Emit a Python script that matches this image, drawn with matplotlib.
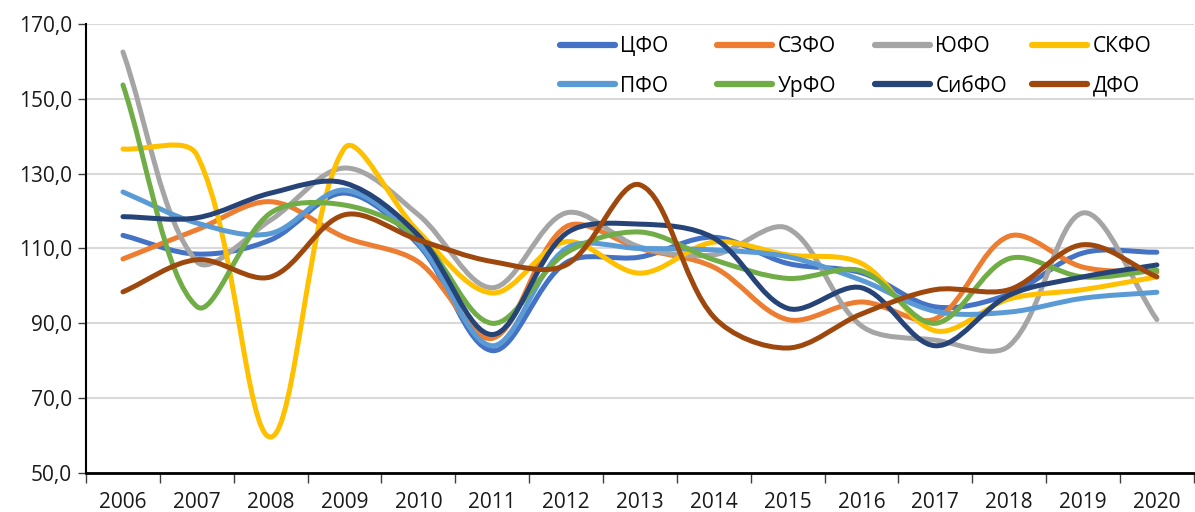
import numpy as np
import matplotlib.pyplot as plt
from matplotlib.path import Path
from matplotlib.patches import PathPatch
from matplotlib.lines import Line2D

plt.rcParams['font.family'] = ['Open Sans', 'DejaVu Sans']

years = ['2006', '2007', '2008', '2009', '2010', '2011', '2012', '2013',
         '2014', '2015', '2016', '2017', '2018', '2019', '2020']

cfo   = [113.5, 108.5, 112.3, 124.8, 111.0, 82.7, 106.2, 107.7, 113.0, 106.0, 103.5, 94.4, 97.8, 108.8, 109.0]
szfo  = [107.2, 115.0, 122.5, 113.0, 106.4, 86.0, 115.8, 110.0, 105.0, 91.0, 95.7, 91.2, 113.3, 105.0, 103.7]
yufo  = [162.5, 106.5, 117.6, 131.5, 119.0, 99.5, 119.5, 110.4, 108.3, 115.4, 89.3, 85.5, 84.0, 119.5, 91.0]
skfo  = [136.6, 135.0, 59.6, 136.8, 114.5, 98.1, 111.8, 103.4, 111.7, 108.3, 106.0, 88.0, 96.5, 99.0, 102.4]
pfo   = [125.1, 116.8, 114.0, 125.6, 111.5, 84.0, 110.0, 110.0, 109.6, 107.8, 101.5, 93.2, 93.0, 96.7, 98.3]
urfo  = [153.7, 94.5, 119.5, 121.6, 113.0, 90.0, 108.8, 114.4, 107.0, 102.0, 104.0, 90.0, 107.3, 102.4, 104.2]
sibfo = [118.5, 118.2, 124.8, 127.5, 113.5, 87.0, 114.0, 116.5, 112.8, 94.0, 99.5, 84.0, 97.5, 102.4, 105.6]
dfo   = [98.4, 107.0, 102.4, 119.0, 112.3, 106.5, 105.6, 127.0, 91.7, 83.4, 92.5, 99.0, 99.0, 111.0, 102.4]

names = ['ЦФО', 'СЗФО', 'ЮФО', 'СКФО', 'ПФО', 'УрФО', 'СибФО', 'ДФО']
series = [cfo, szfo, yufo, skfo, pfo, urfo, sibfo, dfo]
colors = ['#4472C4', '#ED7D31', '#A5A5A5', '#FFC000',
          '#5B9BD5', '#70AD47', '#264478', '#9E480E']


def smooth_path(ax, xs, ys):
    # Excel-style smoothed line, control points worked out in screen space
    P = ax.transData.transform(np.column_stack([xs, ys]).astype(float))
    n = len(P)
    verts = [P[0]]
    codes = [Path.MOVETO]
    for i in range(n - 1):
        p0 = P[i - 1] if i > 0 else P[i]
        p1 = P[i]
        p2 = P[i + 1]
        p3 = P[i + 2] if i + 2 < n else P[i + 1]
        d01 = np.hypot(*(p1 - p0))
        d12 = np.hypot(*(p2 - p1))
        d23 = np.hypot(*(p3 - p2))
        c1 = p1 + (p2 - p0) * d12 / (3 * (d01 + d12))
        c2 = p2 - (p3 - p1) * d12 / (3 * (d12 + d23))
        verts += [c1, c2, p2]
        codes += [Path.CURVE4] * 3
    verts = ax.transData.inverted().transform(np.array(verts))
    return Path(verts, codes)


fig = plt.figure(figsize=(11.95, 5.12), dpi=100)
ax = fig.add_axes([0.072, 0.0762, 0.927, 0.877])

x = np.arange(len(years))
ax.set_xlim(-0.5, len(years) - 0.5)
ax.set_ylim(50, 170)

handles = []
for name, ys, c in zip(names, series, colors):
    patch = PathPatch(smooth_path(ax, x, ys), facecolor='none', edgecolor=c,
                      lw=3.6, capstyle='round', joinstyle='round', zorder=3)
    ax.add_patch(patch)
    handles.append(Line2D([], [], color=c, lw=4.5, solid_capstyle='round'))

ax.set_yticks(np.arange(50, 171, 20))
ax.set_yticklabels([f'{v:.1f}'.replace('.', ',') for v in np.arange(50, 171, 20)])
ax.yaxis.grid(True, color='#D9D9D9', lw=1.5)
ax.set_axisbelow(True)

ax.set_xticks(x)
ax.set_xticklabels(years)
ax.set_xticks(np.arange(-0.5, len(years), 1), minor=True)
ax.tick_params(axis='x', which='major', length=0, pad=14, labelsize=15, labelcolor='#1a1a1a')
ax.tick_params(axis='x', which='minor', length=7, width=1, color='#404040', direction='out')
ax.tick_params(axis='y', length=6, width=1, color='#404040', labelsize=15, pad=4,
               labelcolor='#1a1a1a')

for s in ['top', 'right']:
    ax.spines[s].set_visible(False)
ax.spines['left'].set_linewidth(1.5)
ax.spines['bottom'].set_linewidth(2)

# legend: four fixed-width columns, two rows, like the Excel one
col_x = [560, 717, 875, 1032]
for k, cx in enumerate(col_x):
    leg = fig.legend([handles[k], handles[k + 4]], [names[k], names[k + 4]],
                     loc='upper left', bbox_to_anchor=(cx / 1195, 1 - 36 / 512),
                     bbox_transform=fig.transFigure, frameon=False, fontsize=15,
                     handlelength=2.65, handletextpad=0.25, labelspacing=0.9,
                     borderpad=0, borderaxespad=0)

fig.savefig('out.png', dpi=100)
